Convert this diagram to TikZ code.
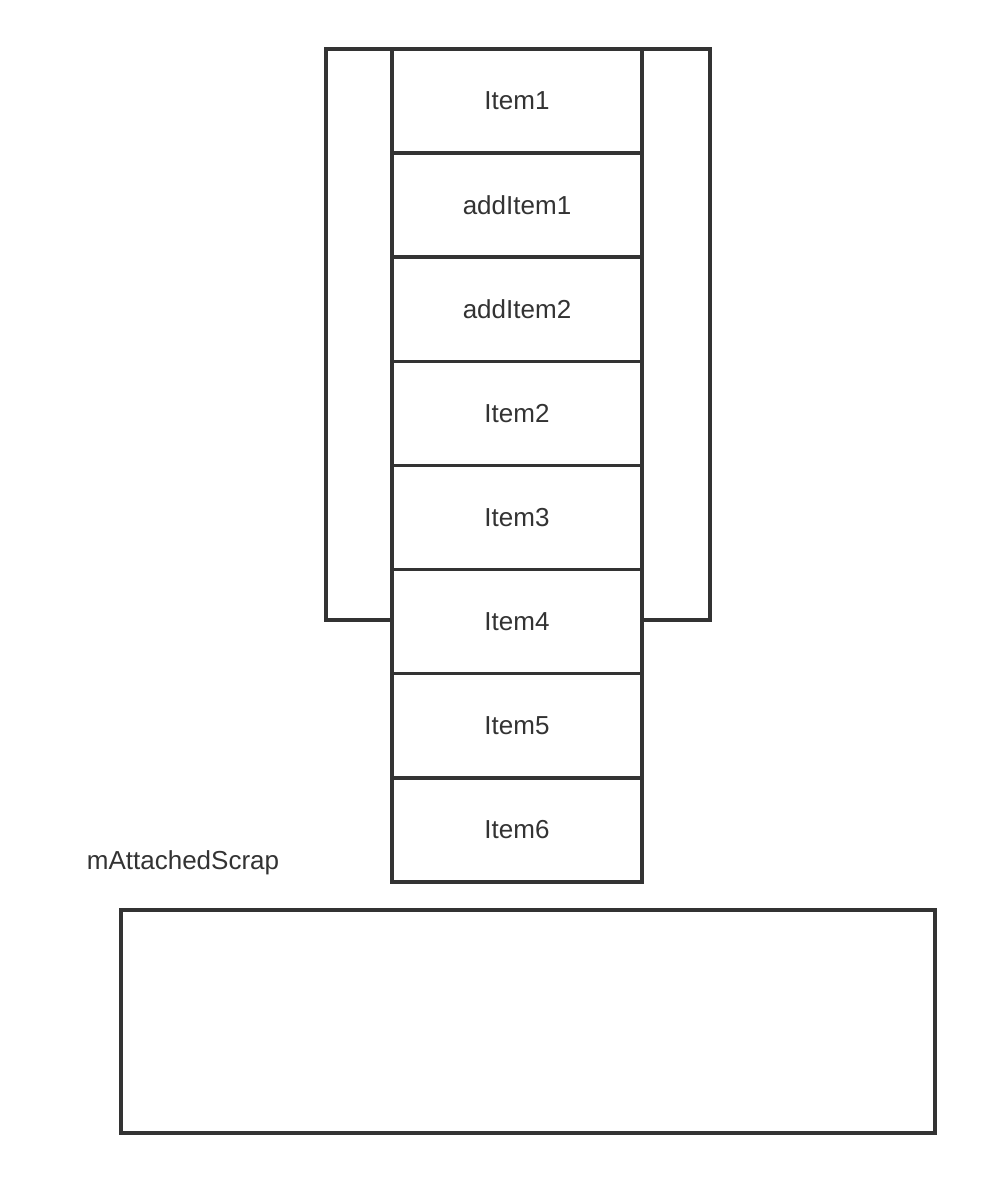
\documentclass[tikz,border=0pt]{standalone}
\usepackage{fontspec}
\setmainfont{Liberation Sans}
\usetikzlibrary{positioning}

\definecolor{ink}{HTML}{333333}

\begin{document}
\begin{tikzpicture}[x=0.025cm, y=-0.025cm, line width=2.5pt, draw=ink,
    every node/.style = {font=\fontsize{18.5}{22}\selectfont, text=ink},
    item/.style = {draw=ink, fill=white, outer sep=0pt, minimum width=6.25cm, minimum height=2.6025cm},
    frame/.style = {draw=ink, outer sep=0pt, minimum width=9.6cm, minimum height=14.275cm}]
    \useasboundingbox (0,0) rectangle (985,1183);
    % the cache frame around the first items
    \node[frame] (cache) at (518,334.5) {};
    \node[item] (item1) at (517,101) {Item1};
    \node[item, below=0pt of item1] (add1) {addItem1};
    \node[item, below=0pt of add1] (add2) {addItem2};
    \node[item, below=0pt of add2] (item2) {Item2};
    \node[item, below=0pt of item2] (item3) {Item3};
    \node[item, below=0pt of item3] (item4) {Item4};
    \node[item, below=0pt of item4] (item5) {Item5};
    \node[item, below=0pt of item5] (item6) {Item6};
    % scrap list
    \node (scraplabel) at (183,863) {mAttachedScrap};
    \node[draw=ink, outer sep=0pt, minimum width=20.35cm, minimum height=5.575cm] (scrap) at (528,1021.5) {};
\end{tikzpicture}
\end{document}
